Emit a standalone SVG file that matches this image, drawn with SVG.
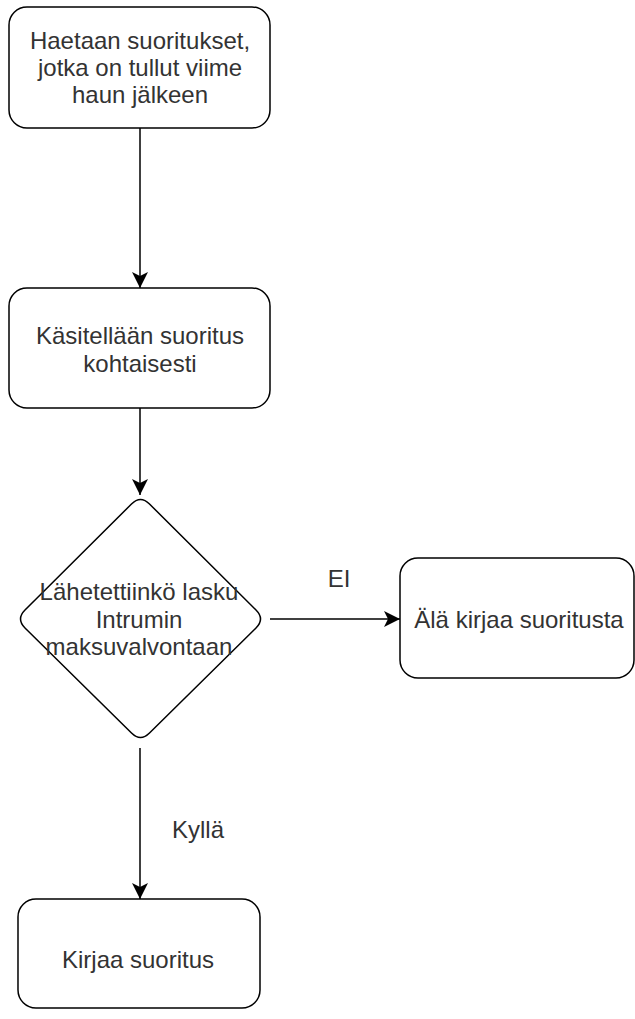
<svg xmlns="http://www.w3.org/2000/svg" width="635" height="1019" viewBox="0 0 635 1019">
<style>
.box{fill:#fff;stroke:#000;stroke-width:1.5}
.t{font-family:"Liberation Sans",Arial,sans-serif;font-size:24px;fill:#333;text-anchor:middle}
.c{fill:none;stroke:#000;stroke-width:1.5}
</style>
<defs>
<marker id="arr" markerUnits="userSpaceOnUse" viewBox="0 0 16 16" markerWidth="16" markerHeight="16" refX="16" refY="8" orient="auto">
<path d="M16,8 L0,0 L4,8 L0,16 Z" fill="#000"/>
</marker>
</defs>
<rect width="635" height="1019" fill="#fff"/>
<g id="connectors">
<path class="c" d="M140,128 L140,288" marker-end="url(#arr)"/>
<path class="c" d="M140,408 L140,495" marker-end="url(#arr)"/>
<path class="c" d="M270,619 L400,619" marker-end="url(#arr)"/>
<path class="c" d="M140,748 L140,899" marker-end="url(#arr)"/>
<text class="t" x="339" y="587">EI</text>
<text class="t" x="198" y="838">Kyllä</text>
</g>
<g id="n1">
<rect class="box" x="9" y="7" width="261" height="121" rx="18"/>
<text class="t" x="140" y="49">Haetaan suoritukset,</text>
<text class="t" x="140" y="76">jotka on tullut viime</text>
<text class="t" x="140" y="103">haun jälkeen</text>
</g>
<g id="n2">
<rect class="box" x="9" y="288" width="261" height="120" rx="18"/>
<text class="t" x="140" y="344">Käsitellään suoritus</text>
<text class="t" x="140" y="372">kohtaisesti</text>
</g>
<g id="n3">
<path class="box" d="M149.5,504 L256,610 Q265,619 256,628 L149.5,733 Q140.5,742 131.5,733 L25,628 Q16,619 25,610 L131.5,504 Q140.5,495 149.5,504 Z"/>
<text class="t" x="139" y="600">Lähetettiinkö lasku</text>
<text class="t" x="139" y="628">Intrumin</text>
<text class="t" x="139" y="655">maksuvalvontaan</text>
</g>
<g id="n4">
<rect class="box" x="400" y="558" width="234" height="120" rx="18"/>
<text class="t" x="519" y="628">Älä kirjaa suoritusta</text>
</g>
<g id="n5">
<rect class="box" x="18" y="899" width="242" height="109" rx="18"/>
<text class="t" x="138" y="968">Kirjaa suoritus</text>
</g>
</svg>
